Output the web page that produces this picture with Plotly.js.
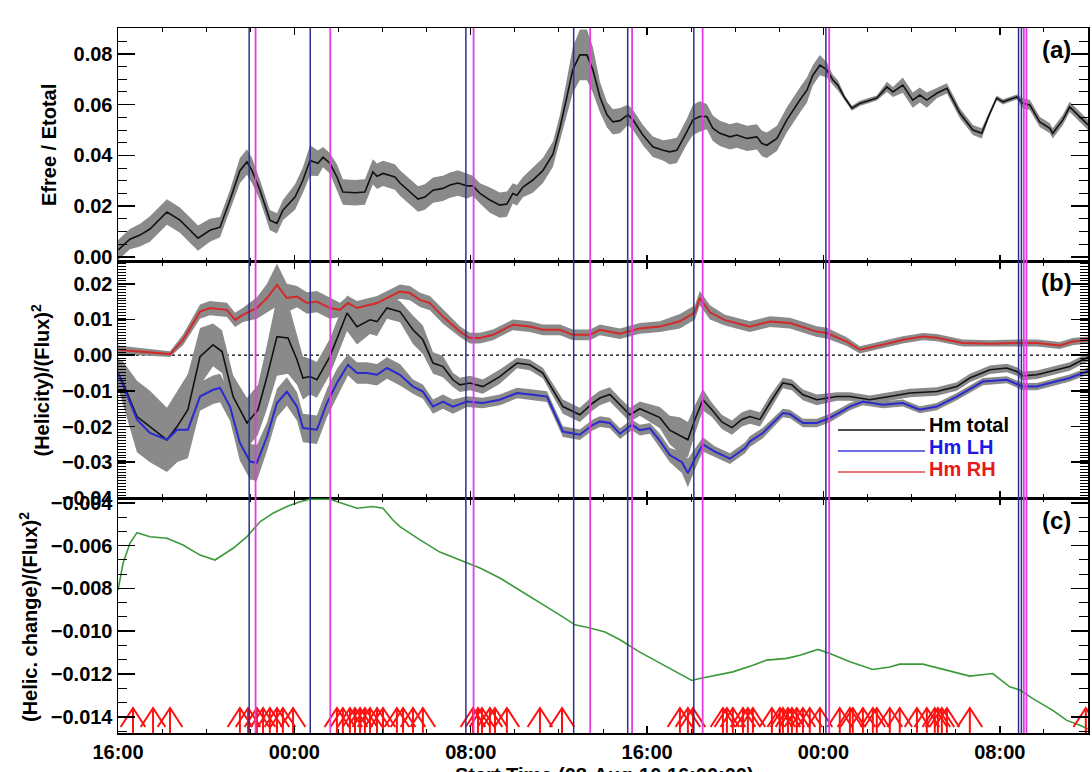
<!DOCTYPE html>
<html>
<head>
<meta charset="utf-8">
<script src="https://cdn.plot.ly/plotly-3.0.1.min.js"></script>
<style>html,body{margin:0;padding:0;background:#fff;}#chart{width:1092px;height:772px;}</style>
</head>
<body>
<div id="chart"></div>
<script>
// ---- x axis (hours since 08-Aug-10 16:00) ----
const xTickHours = [0, 8, 16, 24, 32, 40];
const xTickLabels = ["16:00", "00:00", "08:00", "16:00", "00:00", "08:00"];

// ---- panel (a): Efree / Etotal ----
const timeA = [0.00,0.54,1.00,1.45,2.22,2.81,3.27,3.63,4.17,4.63,
5.08,5.53,5.85,6.08,6.44,6.89,7.21,7.48,8.03,8.39,
8.71,9.07,9.30,9.61,9.93,10.20,10.75,11.20,11.56,11.75,
12.02,12.56,12.79,13.24,13.61,13.92,14.29,14.74,15.06,15.42,
15.83,16.10,16.42,16.87,17.32,17.64,17.91,18.10,18.37,18.82,
19.27,19.73,20.05,20.36,20.63,20.95,21.27,21.54,21.86,22.18,
22.45,22.77,23.13,23.36,23.81,24.26,24.72,25.03,25.35,25.80,
26.08,26.39,26.71,26.98,27.30,27.76,28.07,28.53,28.98,29.21,
29.43,29.89,30.34,30.93,31.25,31.52,31.84,32.15,32.43,32.65,
32.97,33.29,33.65,34.42,34.88,35.15,35.60,36.05,36.37,36.69,
37.14,37.60,38.19,38.78,39.18,39.55,39.86,40.14,40.77,41.04,
41.36,41.81,42.27,42.40,42.86,43.17,43.63,44.00];
const efreeRatio = [0.0027,0.0070,0.0086,0.0110,0.0177,0.0145,0.0105,0.0074,0.0105,0.0117,
0.0224,0.0340,0.0374,0.0340,0.0263,0.0145,0.0132,0.0184,0.0236,0.0303,
0.0380,0.0369,0.0393,0.0369,0.0315,0.0256,0.0253,0.0256,0.0335,0.0318,
0.0329,0.0315,0.0291,0.0256,0.0228,0.0236,0.0263,0.0270,0.0283,0.0291,
0.0280,0.0280,0.0250,0.0224,0.0204,0.0208,0.0250,0.0243,0.0275,0.0303,
0.0340,0.0405,0.0510,0.0630,0.0737,0.0796,0.0796,0.0737,0.0630,0.0560,
0.0532,0.0537,0.0560,0.0540,0.0480,0.0434,0.0420,0.0414,0.0420,0.0493,
0.0540,0.0553,0.0553,0.0507,0.0487,0.0473,0.0480,0.0467,0.0473,0.0447,
0.0440,0.0467,0.0540,0.0618,0.0657,0.0716,0.0756,0.0737,0.0697,0.0677,
0.0626,0.0586,0.0605,0.0626,0.0670,0.0650,0.0677,0.0618,0.0638,0.0618,
0.0645,0.0664,0.0566,0.0500,0.0487,0.0566,0.0626,0.0611,0.0630,0.0605,
0.0599,0.0532,0.0507,0.0487,0.0540,0.0591,0.0553,0.0520];
const efreeErr = [0.004,0.004,0.0045,0.005,0.005,0.005,0.005,0.005,0.0045,0.004,
0.004,0.005,0.005,0.005,0.004,0.004,0.004,0.004,0.005,0.005,
0.006,0.005,0.004,0.004,0.005,0.005,0.005,0.005,0.005,0.005,
0.005,0.005,0.005,0.005,0.005,0.005,0.005,0.005,0.005,0.005,
0.005,0.004,0.004,0.005,0.005,0.005,0.004,0.004,0.004,0.005,
0.005,0.005,0.005,0.007,0.009,0.010,0.010,0.009,0.006,0.005,
0.005,0.005,0.004,0.004,0.004,0.004,0.004,0.005,0.005,0.005,
0.006,0.006,0.005,0.005,0.005,0.005,0.005,0.005,0.005,0.005,
0.005,0.005,0.005,0.005,0.005,0.004,0.004,0.003,0.002,0.002,
0.001,0.001,0.001,0.001,0.002,0.002,0.003,0.003,0.003,0.003,
0.002,0.002,0.002,0.002,0.002,0.001,0.001,0.001,0.001,0.002,
0.002,0.002,0.002,0.002,0.002,0.002,0.002,0.002];

// ---- panel (b): helicity / flux^2 ----
const timeRH = [0.00,1.00,1.90,2.36,2.95,3.72,4.17,4.94,5.31,5.67,
6.30,6.76,7.21,7.66,8.12,8.57,9.02,9.61,10.07,10.43,
10.84,11.75,12.20,12.79,13.24,13.70,14.15,14.74,15.51,15.96,
16.42,17.01,17.91,18.68,19.27,20.05,20.63,21.41,21.86,22.77,
23.67,24.58,25.49,26.17,26.39,26.85,27.53,28.66,29.57,30.48,
31.70,32.15,33.06,33.65,34.69,35.60,36.51,37.14,38.32,39.55,
40.77,41.68,42.72,43.31,44.08];
const hmRH = [0.0015,0.0010,0.0005,0.0003,0.0043,0.0122,0.0132,0.0127,0.0099,0.0113,
0.0132,0.0160,0.0197,0.0160,0.0164,0.0146,0.0150,0.0132,0.0127,0.0146,
0.0132,0.0146,0.0160,0.0178,0.0174,0.0155,0.0146,0.0108,0.0066,0.0048,
0.0048,0.0057,0.0085,0.0080,0.0071,0.0071,0.0057,0.0057,0.0071,0.0060,
0.0075,0.0080,0.0095,0.0120,0.0160,0.0120,0.0098,0.0080,0.0094,0.0090,
0.0066,0.0062,0.0038,0.0015,0.0029,0.0043,0.0052,0.0049,0.0034,0.0032,
0.0034,0.0034,0.0027,0.0038,0.0043];
const errRH = [0.0012,0.001,0.0008,0.0008,0.0015,0.002,0.002,0.002,0.002,0.002,
0.003,0.004,0.006,0.004,0.003,0.003,0.003,0.003,0.002,0.002,
0.002,0.002,0.002,0.002,0.002,0.002,0.002,0.002,0.0015,0.0015,
0.0015,0.0015,0.0015,0.0015,0.0015,0.0015,0.0015,0.0015,0.0015,0.0015,
0.0015,0.0015,0.002,0.002,0.002,0.002,0.0015,0.0015,0.0015,0.0015,
0.0015,0.0015,0.0012,0.001,0.001,0.001,0.001,0.001,0.001,0.001,
0.001,0.001,0.001,0.001,0.001];

const timeTot = [0.00,0.23,0.86,1.45,2.22,2.68,3.17,3.72,4.31,4.72,
5.22,5.85,6.35,6.76,7.21,7.71,8.12,8.39,8.71,9.02,
9.61,10.39,10.84,11.43,11.75,12.20,12.79,13.38,13.83,14.29,
14.74,15.19,15.51,15.96,16.55,17.32,18.10,18.68,19.27,20.18,
20.95,21.54,21.86,22.31,22.77,23.22,23.67,24.58,25.03,25.49,
25.85,26.17,26.53,26.94,27.39,27.85,28.30,28.66,29.12,29.57,
30.16,30.57,31.07,31.70,32.61,33.20,34.10,35.01,35.92,37.14,
38.05,38.64,39.55,40.32,40.77,41.04,41.68,42.27,43.17,43.76,
44.08];
const hmTotal = [-0.0050,-0.0078,-0.0172,-0.0200,-0.0237,-0.0200,-0.0153,-0.0004,0.0029,0.0010,
-0.0116,-0.0190,-0.0153,-0.0060,0.0052,0.0048,-0.0013,-0.0064,-0.0060,-0.0069,
-0.0004,0.0118,0.0080,0.0099,0.0094,0.0132,0.0122,0.0071,0.0043,-0.0022,
-0.0032,-0.0069,-0.0083,-0.0078,-0.0088,-0.0060,-0.0022,-0.0027,-0.0050,-0.0144,
-0.0167,-0.0134,-0.0120,-0.0110,-0.0140,-0.0167,-0.0150,-0.0175,-0.0210,-0.0224,
-0.0237,-0.0180,-0.0125,-0.0153,-0.0187,-0.0203,-0.0180,-0.0172,-0.0180,-0.0134,
-0.0078,-0.0083,-0.0111,-0.0125,-0.0116,-0.0116,-0.0125,-0.0116,-0.0106,-0.0102,
-0.0088,-0.0064,-0.0041,-0.0036,-0.0046,-0.0058,-0.0055,-0.0046,-0.0032,-0.0013,
-0.0004];
const errTotal = [0.004,0.006,0.010,0.010,0.009,0.010,0.010,0.008,0.006,0.006,
0.006,0.007,0.007,0.009,0.011,0.010,0.007,0.006,0.005,0.005,
0.005,0.005,0.005,0.004,0.004,0.003,0.003,0.004,0.004,0.003,
0.003,0.002,0.002,0.002,0.002,0.002,0.0015,0.0015,0.0015,0.002,
0.002,0.002,0.002,0.002,0.002,0.002,0.002,0.003,0.004,0.005,
0.005,0.004,0.003,0.002,0.002,0.002,0.002,0.002,0.002,0.002,
0.0015,0.0015,0.0015,0.0015,0.0012,0.0012,0.0012,0.0012,0.0012,0.0012,
0.0012,0.0012,0.0012,0.0012,0.0012,0.0012,0.0012,0.0012,0.0012,0.0012,
0.0012];

const timeLH = [0.00,0.86,1.45,2.22,2.68,3.17,3.72,4.31,4.63,5.08,
5.53,5.99,6.30,6.76,7.21,7.66,8.12,8.39,9.02,9.48,
9.93,10.43,10.84,11.29,11.75,12.20,12.79,13.38,13.83,14.29,
14.74,15.19,15.83,16.55,17.32,18.10,18.82,19.46,20.18,20.95,
21.54,21.86,22.31,22.77,23.31,23.67,24.13,24.58,25.03,25.58,
25.85,26.17,26.53,27.07,27.76,28.44,28.66,29.25,30.16,30.48,
31.07,31.70,32.29,33.20,33.79,34.69,35.60,36.37,37.14,38.05,
39.23,40.32,41.04,41.68,42.27,43.17,44.08];
const hmLH = [-0.0050,-0.0180,-0.0218,-0.0237,-0.0209,-0.0209,-0.0116,-0.0097,-0.0092,-0.0144,
-0.0246,-0.0298,-0.0302,-0.0228,-0.0134,-0.0102,-0.0144,-0.0204,-0.0209,-0.0134,
-0.0078,-0.0027,-0.0050,-0.0050,-0.0055,-0.0036,-0.0055,-0.0088,-0.0102,-0.0144,
-0.0130,-0.0144,-0.0130,-0.0134,-0.0125,-0.0106,-0.0111,-0.0116,-0.0214,-0.0223,
-0.0195,-0.0186,-0.0190,-0.0220,-0.0195,-0.0210,-0.0205,-0.0240,-0.0280,-0.0300,
-0.0330,-0.0290,-0.0250,-0.0270,-0.0290,-0.0260,-0.0242,-0.0218,-0.0162,-0.0165,
-0.0190,-0.0190,-0.0176,-0.0144,-0.0130,-0.0139,-0.0134,-0.0153,-0.0144,-0.0116,
-0.0074,-0.0069,-0.0088,-0.0088,-0.0078,-0.0064,-0.0043];
const errLH = [0.004,0.006,0.007,0.008,0.009,0.008,0.004,0.004,0.004,0.004,
0.005,0.005,0.005,0.004,0.004,0.004,0.004,0.004,0.004,0.004,
0.004,0.003,0.003,0.003,0.003,0.003,0.003,0.002,0.002,0.002,
0.002,0.002,0.0015,0.0015,0.0015,0.0015,0.0015,0.0015,0.0015,0.0015,
0.0015,0.0015,0.0015,0.0015,0.0015,0.0015,0.0015,0.002,0.002,0.003,
0.004,0.003,0.002,0.0015,0.0015,0.0015,0.0015,0.0015,0.0012,0.0012,
0.0012,0.0012,0.0012,0.001,0.001,0.001,0.001,0.001,0.001,0.001,
0.001,0.001,0.001,0.001,0.001,0.001,0.001];

// ---- panel (c): accumulated helicity change / flux^2 ----
const timeC = [0.00,0.23,0.54,0.86,1.45,2.22,2.95,3.72,4.40,5.22,
5.85,6.44,7.03,7.66,8.25,8.71,9.61,10.07,10.84,11.56,
12.02,12.47,12.79,13.70,14.60,15.51,16.42,17.32,18.23,19.14,
20.05,20.73,21.41,22.09,22.77,23.67,24.58,25.49,26.03,26.39,
27.17,27.89,28.80,29.43,30.34,30.93,31.75,32.29,33.20,34.24,
35.01,35.46,36.51,37.28,38.64,39.68,40.45,40.91,41.50,42.40,
43.04,43.63,44.08];
const helicChange = [-0.00808,-0.00682,-0.00589,-0.00539,-0.00558,-0.00565,-0.00597,-0.00644,-0.00667,-0.00612,
-0.00558,-0.00488,-0.00448,-0.00417,-0.00394,-0.00383,-0.00383,-0.00400,-0.00425,-0.00417,
-0.00425,-0.00480,-0.00511,-0.00573,-0.00630,-0.00667,-0.00704,-0.00751,-0.00808,-0.00868,
-0.00925,-0.00970,-0.00985,-0.01004,-0.01040,-0.01098,-0.01150,-0.01200,-0.01230,-0.01221,
-0.01206,-0.01190,-0.01159,-0.01135,-0.01127,-0.01112,-0.01085,-0.01104,-0.01143,-0.01179,
-0.01167,-0.01154,-0.01154,-0.01174,-0.01210,-0.01198,-0.01260,-0.01275,-0.01315,-0.01370,
-0.01417,-0.01440,-0.01460];

// ---- events ----
const flareTimes = [0.68,1.59,2.36,
5.53,5.90,6.30,6.58,6.89,7.21,7.48,7.94,
9.93,10.20,10.52,10.75,10.98,11.20,11.43,11.75,12.02,12.65,12.93,13.38,13.83,
16.10,16.33,16.51,16.87,17.10,17.64,19.14,20.14,
25.49,25.85,26.08,
27.44,27.62,27.89,28.35,28.57,28.80,29.66,30.02,30.16,30.39,30.57,30.79,31.07,31.38,31.84,
32.74,33.20,33.33,33.79,34.24,34.42,35.01,35.46,36.24,36.69,37.05,37.19,37.37,37.60,38.64,
43.90];
const blueEventTimes = [5.95,8.72,15.78,20.67,23.12,26.12,32.11,40.85,40.98];
const magentaEventTimes = [6.24,9.63,16.13,21.42,23.32,26.52,32.26,41.09,41.21];

// ---- styles ----
const FONT = 'Liberation Sans, Arial, Helvetica, sans-serif';
const BAND = '#8a8a8a';
const ARROW_TIP = -0.01359, ARROW_WING = -0.01448, ARROW_BASE = -0.01480, ARROW_HALF = 0.56;

function band(t, v, e, xa, ya) {
  const up = v.map((d, i) => d + e[i]);
  const lo = v.map((d, i) => d - e[i]);
  return {x: t.concat(t.slice().reverse()), y: up.concat(lo.slice().reverse()),
    xaxis: xa, yaxis: ya, type: 'scatter', mode: 'lines', fill: 'toself',
    fillcolor: BAND, line: {width: 0, color: BAND}, hoverinfo: 'skip', showlegend: false};
}
function line(t, v, color, w, xa, ya) {
  return {x: t, y: v, xaxis: xa, yaxis: ya, type: 'scatter', mode: 'lines',
    line: {color: color, width: w}, hoverinfo: 'skip', showlegend: false};
}
const ax = [], ay = [];
flareTimes.forEach(t => {
  ax.push(t, t, null, t - ARROW_HALF, t, t + ARROW_HALF, null);
  ay.push(ARROW_BASE, ARROW_TIP, null, ARROW_WING, ARROW_TIP, ARROW_WING, null);
});

const traces = [
  band(timeA, efreeRatio, efreeErr, 'x', 'y'),
  line(timeA, efreeRatio, '#111111', 1.6, 'x', 'y'),
  band(timeRH, hmRH, errRH, 'x2', 'y2'),
  band(timeTot, hmTotal, errTotal, 'x2', 'y2'),
  band(timeLH, hmLH, errLH, 'x2', 'y2'),
  line(timeRH, hmRH, '#d42a2a', 2, 'x2', 'y2'),
  line(timeTot, hmTotal, '#111111', 1.6, 'x2', 'y2'),
  line(timeLH, hmLH, '#2a2ad0', 2, 'x2', 'y2'),
  line(timeC, helicChange, '#3a9a3a', 1.6, 'x3', 'y3'),
  {x: ax, y: ay, xaxis: 'x3', yaxis: 'y3', type: 'scatter', mode: 'lines',
   line: {color: '#ff1010', width: 2}, hoverinfo: 'skip', showlegend: false, connectgaps: false}
];

const tickFont = {family: FONT, size: 20, color: '#000', weight: 'bold'};
function xax(extra) {
  return Object.assign({
    range: [0, 44], tickmode: 'array', tickvals: xTickHours, ticktext: xTickLabels,
    ticks: 'inside', ticklen: 7, tickwidth: 1.5, tickcolor: '#000',
    minor: {tick0: 0, dtick: 2, ticks: 'inside', ticklen: 4, tickwidth: 1, tickcolor: '#000'},
    showline: true, linecolor: '#000', linewidth: 1.5, mirror: 'allticks',
    showgrid: false, zeroline: false, tickfont: tickFont, fixedrange: true
  }, extra);
}
function yax(extra, minorDtick, minorLen) {
  return Object.assign({
    ticks: 'inside', ticklen: 17, tickwidth: 1.5, tickcolor: '#000',
    minor: {tick0: 0, dtick: minorDtick, ticks: 'inside', ticklen: minorLen, tickwidth: 1, tickcolor: '#000'},
    showline: true, linecolor: '#000', linewidth: 1.5, mirror: 'allticks',
    showgrid: false, zeroline: false, tickfont: tickFont, fixedrange: true, ticklabelstandoff: 0
  }, extra);
}

const shapes = [];
blueEventTimes.forEach(t => shapes.push({type: 'line', xref: 'x', yref: 'paper', x0: t, x1: t, y0: 0, y1: 1,
  line: {color: '#2e2e8e', width: 1.5}}));
magentaEventTimes.forEach(t => shapes.push({type: 'line', xref: 'x', yref: 'paper', x0: t, x1: t, y0: 0, y1: 1,
  line: {color: '#e23ce2', width: 1.8}}));
shapes.push({type: 'line', xref: 'x2 domain', yref: 'y2', x0: 0, x1: 1, y0: 0, y1: 0,
  line: {color: '#000', width: 1.2, dash: 'dot'}, layer: 'below'});
// legend sample lines
const legendItems = [['Hm total', '#000000', '#111111', 0.4369, 0.4298],
                     ['Hm LH', '#1a1ae6', '#3a3ad8', 0.4057, 0.4000],
                     ['Hm RH', '#e61a1a', '#e04848', 0.3745, 0.3702]];
legendItems.forEach(it => shapes.push({type: 'line', xref: 'paper', yref: 'paper',
  x0: 0.7423, x1: 0.832, y0: it[4], y1: it[4], line: {color: it[2], width: 1.5}}));

const titleFont = {family: FONT, size: 20, color: '#000', weight: 'bold'};
const panelFont = {family: FONT, size: 24, color: '#000', weight: 'bold'};
const annotations = [
  {xref: 'paper', yref: 'paper', x: 0, y: 0.834, xshift: -69, xanchor: 'center', yanchor: 'middle',
   textangle: -90, showarrow: false, text: 'Efree / Etotal', font: titleFont},
  {xref: 'paper', yref: 'paper', x: 0, y: 0.50, xshift: -78, xanchor: 'center', yanchor: 'middle',
   textangle: -90, showarrow: false, text: '(Helicity)/(Flux)<sup>2</sup>', font: titleFont},
  {xref: 'paper', yref: 'paper', x: 0, y: 0.1645, xshift: -90, xanchor: 'center', yanchor: 'middle',
   textangle: -90, showarrow: false, text: '(Helic. change)/(Flux)<sup>2</sup>', font: titleFont},
  {xref: 'paper', yref: 'paper', x: 0.968, y: 0.9688, xanchor: 'center', yanchor: 'middle',
   showarrow: false, text: '(a)', font: panelFont},
  {xref: 'paper', yref: 'paper', x: 0.968, y: 0.6383, xanchor: 'center', yanchor: 'middle',
   showarrow: false, text: '(b)', font: panelFont},
  {xref: 'paper', yref: 'paper', x: 0.968, y: 0.3021, xanchor: 'center', yanchor: 'middle',
   showarrow: false, text: '(c)', font: panelFont},
  {xref: 'paper', yref: 'paper', x: 0.502, y: -0.0411, xanchor: 'center', yanchor: 'top', showarrow: false,
   text: 'Start Time (08-Aug-10 16:00:00)', font: titleFont}
];
legendItems.forEach(it => annotations.push({xref: 'paper', yref: 'paper', x: 0.834, y: it[3],
  xanchor: 'left', yanchor: 'middle', showarrow: false, text: it[0],
  font: {family: FONT, size: 20, color: it[1], weight: 'bold'}}));

const layout = {
  width: 1092, height: 772,
  margin: {l: 118, r: 4, t: 28, b: 39},
  paper_bgcolor: '#fff', plot_bgcolor: '#fff',
  showlegend: false,
  xaxis: xax({anchor: 'y', showticklabels: false}),
  xaxis2: xax({anchor: 'y2', matches: 'x', showticklabels: false}),
  xaxis3: xax({anchor: 'y3', matches: 'x', showticklabels: true}),
  yaxis: yax({anchor: 'x', domain: [0.6681, 1], range: [-0.002, 0.0902], dtick: 0.02, tickformat: '.2f'}, 0.005, 9),
  yaxis2: yax({anchor: 'x2', domain: [0.3333, 0.6681], range: [-0.04002, 0.0261], dtick: 0.01, tickformat: '.2f'}, 0.0008, 8),
  yaxis3: yax({anchor: 'x3', domain: [0, 0.3333], range: [-0.01476, -0.00377], dtick: 0.002, tickformat: '.3f'}, 0.002 / 3, 9),
  shapes: shapes,
  annotations: annotations
};

Plotly.newPlot('chart', traces, layout, {staticPlot: true, displayModeBar: false});
</script>
</body>
</html>
